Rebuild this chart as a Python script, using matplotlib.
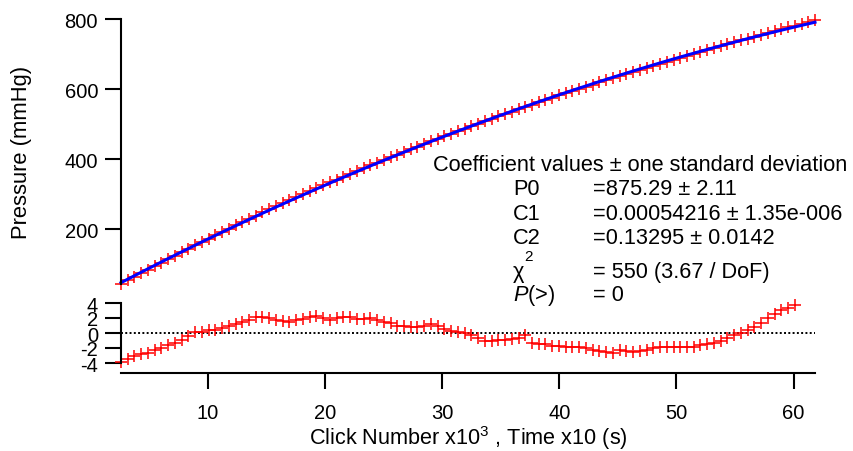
import numpy as np
import matplotlib.pyplot as plt

plt.rcParams['font.family'] = ['Liberation Sans', 'DejaVu Sans']
plt.rcParams['mathtext.fontset'] = 'custom'
plt.rcParams['mathtext.rm'] = 'Liberation Sans'
plt.rcParams['mathtext.it'] = 'Liberation Sans:italic'
plt.rcParams['axes.unicode_minus'] = False

# sample times (click number x10^3 / time x10 s)
time_x10 = [
    2.600, 3.175, 3.750, 4.325, 4.900, 5.475, 6.050, 6.625,
    7.200, 7.775, 8.350, 8.925, 9.500, 10.075, 10.650, 11.225,
    11.800, 12.375, 12.950, 13.525, 14.100, 14.675, 15.250, 15.825,
    16.400, 16.975, 17.550, 18.125, 18.700, 19.275, 19.850, 20.425,
    21.000, 21.575, 22.150, 22.725, 23.300, 23.875, 24.450, 25.025,
    25.600, 26.175, 26.750, 27.325, 27.900, 28.475, 29.050, 29.625,
    30.200, 30.775, 31.350, 31.925, 32.500, 33.075, 33.650, 34.225,
    34.800, 35.375, 35.950, 36.525, 37.100, 37.675, 38.250, 38.825,
    39.400, 39.975, 40.550, 41.125, 41.700, 42.275, 42.850, 43.425,
    44.000, 44.575, 45.150, 45.725, 46.300, 46.875, 47.450, 48.025,
    48.600, 49.175, 49.750, 50.325, 50.900, 51.475, 52.050, 52.625,
    53.200, 53.775, 54.350, 54.925, 55.500, 56.075, 56.650, 57.225,
    57.800, 58.375, 58.950, 59.525, 60.100, 60.675, 61.250, 61.825,
]

# fitted curve (mmHg) at each sample
fit_mmhg = [
    46.8, 56.8, 66.7, 76.6, 86.4, 96.2, 105.9, 115.6, 125.2, 134.7,
    144.2, 153.7, 163.1, 172.4, 181.7, 190.9, 200.1, 209.2, 218.3, 227.3,
    236.2, 245.1, 254.0, 262.8, 271.5, 280.2, 288.8, 297.4, 305.9, 314.4,
    322.8, 331.2, 339.5, 347.7, 355.9, 364.1, 372.2, 380.2, 388.2, 396.1,
    404.0, 411.8, 419.6, 427.3, 434.9, 442.5, 450.1, 457.6, 465.0, 472.4,
    479.7, 487.0, 494.2, 501.4, 508.5, 515.6, 522.6, 529.5, 536.4, 543.3,
    550.1, 556.8, 563.5, 570.1, 576.7, 583.2, 589.7, 596.1, 602.5, 608.7,
    615.0, 621.2, 627.3, 633.4, 639.4, 645.4, 651.4, 657.2, 663.0, 668.8,
    674.5, 680.2, 685.8, 691.3, 696.8, 702.2, 707.6, 712.9, 718.2, 723.4,
    728.6, 733.7, 738.8, 743.8, 748.7, 753.6, 758.4, 763.2, 768.0, 772.6,
    777.3, 781.8, 786.3, 790.8,
]

# data - fit
residual = [
    -3.8, -3.5, -3.1, -2.8, -2.7, -2.2, -2.0, -1.6, -1.3, -0.9,
    -0.4, 0.1, 0.2, 0.4, 0.4, 0.7, 0.9, 1.2, 1.5, 1.7,
    2.1, 2.2, 2.0, 1.8, 1.6, 1.5, 1.8, 1.9, 2.2, 2.3,
    2.0, 1.8, 2.0, 2.1, 2.2, 1.9, 1.9, 2.0, 1.8, 1.5,
    1.3, 1.0, 0.9, 0.8, 0.8, 0.9, 1.2, 0.9, 0.6, 0.3,
    0.1, 0.0, -0.3, -0.7, -1.0, -1.1, -0.9, -0.9, -0.8, -0.7,
    -0.3, -1.3, -1.4, -1.5, -1.7, -1.7, -1.8, -1.9, -1.9, -2.0,
    -2.2, -2.4, -2.5, -2.7, -2.2, -2.4, -2.5, -2.4, -2.2, -2.0,
    -1.9, -1.9, -1.8, -1.8, -1.9, -1.9, -1.6, -1.4, -1.3, -1.1,
    -0.7, -0.3, 0.0, 0.4, 0.8, 1.4, 2.0, 2.6, 3.1, 3.4,
    3.8, 4.3, 4.8, 5.2,
]

coef_rows = [
    ("P0", "=875.29 ± 2.11"),
    ("C1", "=0.00054216 ± 1.35e-006"),
    ("C2", "=0.13295 ± 0.0142"),
]
chi2_value = "= 550 (3.67 / DoF)"
prob_value = "= 0"

t = np.array(time_x10)
fit = np.array(fit_mmhg)
res = np.array(residual)
pressure = fit + res

W, H = 854, 452
fig = plt.figure(figsize=(W / 100, H / 100), dpi=100)
fig.patch.set_facecolor('white')


def box(x0, y0, x1, y1):
    # pixel rectangle (from top-left) -> figure fraction
    return [x0 / W, 1 - y1 / H, (x1 - x0) / W, (y1 - y0) / H]


def fx(x):
    return x / W


def fy(y):
    return 1 - y / H


ax = fig.add_axes(box(121, 20, 815, 285))
axr = fig.add_axes(box(121, 304, 815, 364))

for a in (ax, axr):
    for side in ('top', 'right'):
        a.spines[side].set_visible(False)
    a.spines['left'].set_linewidth(1.5)
    a.tick_params(axis='y', direction='out', length=11.5, width=1.5,
                  labelsize=14.5, pad=5)
    a.set_xlim(t[0], t[-1])
    a.patch.set_alpha(0)

# main panel
ax.spines['bottom'].set_visible(False)
ax.tick_params(axis='x', bottom=False, labelbottom=False)
ax.plot(t, pressure, '+', color='red', ms=9, mew=1.1, clip_on=False)
ax.plot(t, fit, color='blue', lw=2.2, clip_on=False)
ax.set_ylim(pressure.min(), 800)
ax.set_yticks([200, 400, 600, 800])
ax.set_ylabel('Pressure (mmHg)', fontsize=15.8)
ax.yaxis.set_label_coords(-0.128, 0.5)

# residual panel, off-scale points are left out
shown = np.where(np.abs(res) <= 4, res, np.nan)
axr.axhline(0, color='black', lw=1.4, ls=(0, (1, 1.2)))
axr.plot(t, shown, '+', color='red', ms=9, mew=1.1, clip_on=False)
axr.set_ylim(-4, 4)
axr.set_yticks([-4, -2, 0, 2, 4])
axr.spines['bottom'].set_position(('outward', 7.2))
axr.spines['bottom'].set_linewidth(1.5)
axr.set_xticks([10, 20, 30, 40, 50, 60])
axr.tick_params(axis='x', direction='out', length=11.5, width=1.5,
                labelsize=14.5, pad=10)

fig.text(fx(468), fy(438), r'Click Number x10$^{3}$ , Time x10 (s)',
         fontsize=15.6, ha='center', va='center')

# fit coefficient box
fs = 15.7
fig.text(fx(433), fy(171), 'Coefficient values ± one standard deviation',
         fontsize=fs, va='baseline')
for (name, val), yb in zip(coef_rows, [195.5, 219.5, 244]):
    fig.text(fx(513), fy(yb), name, fontsize=fs, va='baseline')
    fig.text(fx(593), fy(yb), val, fontsize=fs, va='baseline')
fig.text(fx(513), fy(278), 'χ', fontsize=fs, va='baseline')
fig.text(fx(524), fy(261), '2', fontsize=11, va='baseline')
fig.text(fx(593), fy(278), chi2_value, fontsize=fs, va='baseline')
fig.text(fx(513), fy(301), r'$P$(>)', fontsize=fs, va='baseline')
fig.text(fx(593), fy(301), prob_value, fontsize=fs, va='baseline')

fig.savefig('out.png', dpi=100, facecolor='white')
